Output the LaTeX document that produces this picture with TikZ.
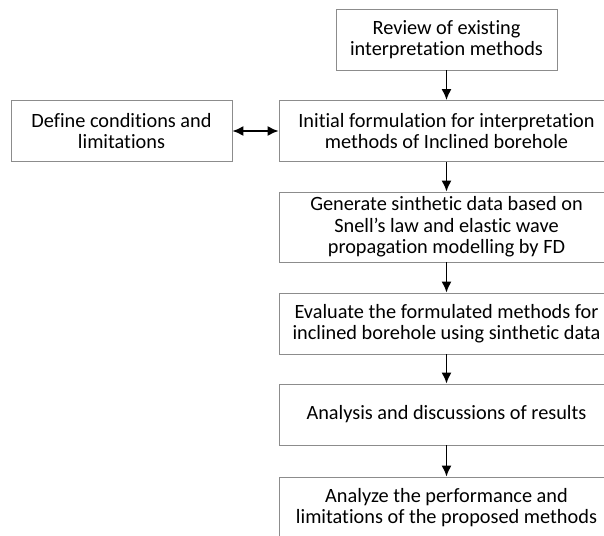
\documentclass[tikz,border=0pt]{standalone}
\usepackage{fontspec}
\setmainfont{Carlito}[Ligatures=NoCommon]
\usetikzlibrary{arrows.meta}
\definecolor{boxgray}{RGB}{140,140,140}

\begin{document}
\begin{tikzpicture}[x = 1pt, y = -1pt, > = {Latex[length=11pt, width=10pt]}, line width = 1.5pt,
    stepbox/.style = {draw = boxgray, line width = 0.9pt, align = center, inner sep = 0pt,
      font = \fontsize{20.3}{21.5}\selectfont, minimum height = 61pt},
    mainbox/.style = {stepbox, minimum width = 335pt},
    sidebox/.style = {stepbox, minimum width = 221pt}]
          \useasboundingbox (0,0) rectangle (604,535);
          \clip (0,0) rectangle (604,535);
          \node[sidebox] (review) at (446.5, 39.5) {Review of existing\\interpretation methods};
          \node[sidebox] (conds) at (121.5, 131) {Define conditions and\\limitations};
          \node[mainbox] (initial) at (446.5, 131) {Initial formulation for interpretation\\methods of Inclined borehole};
          \node[mainbox, minimum height = 70pt] (generate) at (446.5, 227) {Generate sinthetic data based on\\Snell's law and elastic wave\\propagation modelling by FD};
          \node[mainbox] (evaluate) at (446.5, 323.5) {Evaluate the formulated methods for\\inclined borehole using sinthetic data};
          \node[mainbox] (analysis) at (446.5, 414.5) {Analysis and discussions of results};
          \node[mainbox] (analyze) at (446.5, 507.5) {Analyze the performance and\\limitations of the proposed methods};
          \draw[->] (review) -- (initial);
          \draw[<->] (conds) -- (initial);
          \draw[->] (initial) -- (generate);
          \draw[->] (generate) -- (evaluate);
          \draw[->] (evaluate) -- (analysis);
          \draw[->] (analysis) -- (analyze);
        \end{tikzpicture}
\end{document}
